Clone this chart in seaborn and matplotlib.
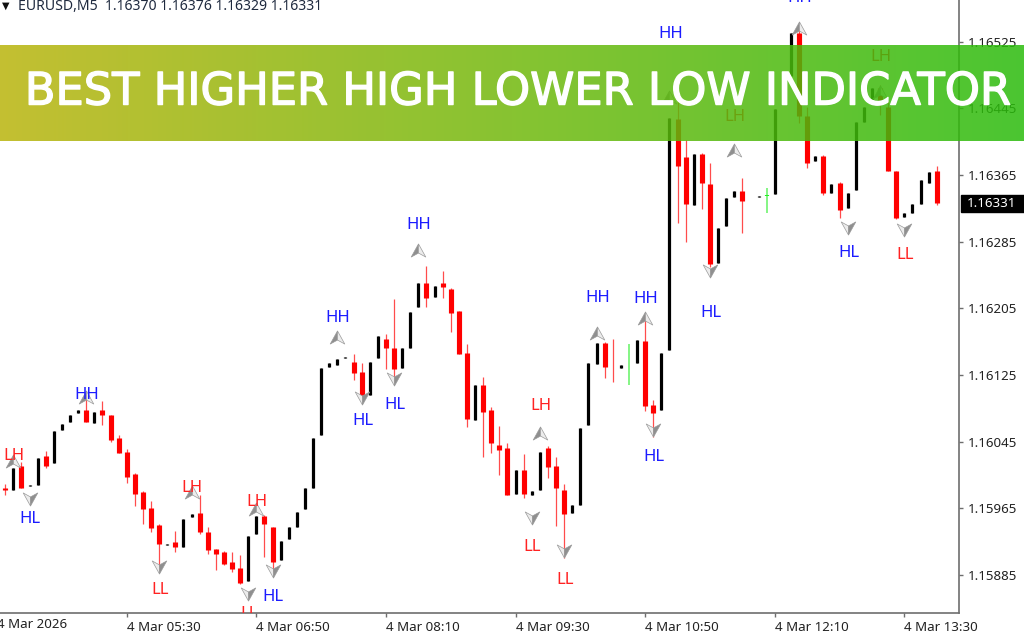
import numpy as np
import pandas as pd
import matplotlib
matplotlib.use('Agg')
import matplotlib.pyplot as plt
import matplotlib.patheffects as pe
from matplotlib.path import Path
from matplotlib.patches import Rectangle
import seaborn as sns

# EURUSD M5 candles, values are in points (1e-5), nan = bar not visible
nan = np.nan
opens = [115989, 115987, 116016, 115992, 115993, 116028, 116019, 116059, 116069, 116080,
         116083, 116067, 116083, 116077, 116049, 116033, 116006, 115985, 115965, 115945,
         115921, 115925, 115919, 115955, 115960, 115937, 115917, 115913, 115901, 115894,
         115878, 115935, 115956, 115943, 115903, 115929, 115943, 115964, 115989, 116053,
         116135, 116137, 116146, 116141, 116129, 116101, 116145, 116168, 116157, 116134,
         116157, 116207, 116235, 116219, 116235, 116228, 116202, 116152, 116071, 116113,
         116083, 116041, 116038, 115982, 116011, 115981, 115987, 116038, 116016, 115987,
         115960, 115969, 116065, 116138, 116163, 116134, 116133, 116140, 116139, 116166,
         116089, 116083, 116155, 116432, 116387, 116329, 116390, 116354, 116259, 116304,
         116339, 116346, nan, 116339, 116341, 116342, nan, 116484, 116535, 116436,
         116382, 116388, 116343, 116355, 116325, 116347, 116429, 116453, 116469, 116447,
         116370, 116315, 116320, 116330, 116355, 116370]
closes = [115987, 116014, 115989, 115993, 116026, 116016, 116058, 116066, 116077, 116083,
          116069, 116081, 116077, 116047, 116032, 116003, 115982, 115964, 115942, 115922,
          115923, 115919, 115952, 115958, 115937, 115915, 115911, 115899, 115893, 115876,
          115932, 115956, 115946, 115901, 115926, 115943, 115961, 115989, 116050, 116133,
          116139, 116144, 116147, 116128, 116100, 116141, 116172, 116157, 116132, 116157,
          116201, 116236, 116218, 116232, 116231, 116199, 116150, 116072, 116113, 116081,
          116043, 116035, 115981, 116011, 115982, 115986, 116033, 116015, 115989, 115958,
          115969, 116062, 116139, 116163, 116135, 116133, 116137, 116139, 116167, 116088,
          116079, 116152, 116433, 116376, 116330, 116390, 116355, 116258, 116302, 116337,
          116346, 116334, nan, 116340, 116340, 116444, nan, 116535, 116436, 116379,
          116388, 116343, 116354, 116323, 116343, 116429, 116447, 116470, 116455, 116370,
          116313, 116320, 116330, 116359, 116369, 116331]
highs = [115994, 116014, 116021, 115993, 116026, 116034, 116058, 116066, 116077, 116083,
         116099, 116081, 116094, 116077, 116053, 116036, 116008, 115986, 115974, 115947,
         115923, 115938, 115952, 115958, 115981, 115943, 115917, 115914, 115913, 115909,
         115932, 115956, 115957, 115943, 115926, 115943, 115961, 115989, 116050, 116133,
         116139, 116144, 116147, 116150, 116140, 116141, 116172, 116174, 116216, 116157,
         116201, 116236, 116256, 116232, 116250, 116229, 116202, 116162, 116113, 116123,
         116087, 116064, 116044, 116011, 116030, 115986, 116033, 116040, 116027, 115994,
         115969, 116062, 116139, 116163, 116165, 116168, 116137, 116162, 116167, 116197,
         116095, 116152, 116433, 116461, 116407, 116390, 116391, 116380, 116302, 116337,
         116346, 116361, nan, 116340, 116350, 116444, nan, 116535, 116541, 116447,
         116388, 116389, 116354, 116357, 116343, 116429, 116447, 116470, 116473, 116455,
         116370, 116320, 116330, 116359, 116369, 116376]
lows = [115981, 115987, 115989, 115992, 115993, 116014, 116019, 116059, 116069, 116080,
        116069, 116067, 116065, 116045, 116032, 115996, 115968, 115946, 115937, 115891,
        115921, 115913, 115919, 115955, 115934, 115911, 115891, 115897, 115889, 115874,
        115878, 115935, 115907, 115889, 115903, 115929, 115943, 115964, 115989, 116053,
        116135, 116137, 116146, 116119, 116099, 116101, 116145, 116132, 116117, 116134,
        116157, 116207, 116207, 116219, 116218, 116177, 116150, 116063, 116071, 116027,
        116032, 116005, 115981, 115982, 115977, 115981, 115987, 116001, 115944, 115906,
        115960, 115969, 116065, 116138, 116122, 116117, 116133, 116113, 116139, 116082,
        116051, 116083, 116155, 116308, 116285, 116329, 116324, 116255, 116259, 116304,
        116339, 116296, nan, 116339, 116319, 116342, nan, 116484, 116427, 116373,
        116382, 116341, 116343, 116314, 116325, 116347, 116429, 116453, 116437, 116370,
        116312, 116315, 116320, 116330, 116355, 116329]
green_bars = [77, 94]

# swing labels of the indicator
swing_bars = [1, 3, 10, 19, 23, 30, 31, 33, 41, 44, 48, 51, 65, 66, 69, 73, 79, 80, 82, 87, 90, 98, 104, 108, 111]
swing_names = ['LH', 'HL', 'HH', 'LL', 'LH', 'LL', 'LH', 'HL', 'HH', 'HL', 'HL', 'HH', 'LL',
               'LH', 'LL', 'HH', 'HH', 'HL', 'HH', 'HL', 'LH', 'HH', 'HL', 'LH', 'LL']
swing_text_points = [116030, 115955, 116103, 115869, 115992, 115840, 115975, 115861, 116196,
                     116072, 116091, 116307, 115921, 116090, 115881, 116220, 116218, 116029,
                     116536, 116202, 116437, 116579, 116273, 116509, 116271]
swing_arrow_points = [116022, 115976, 116099, 115895, 115985, 115862, 115964, 115890, 116171,
                      116097, 116120, 116275, 115954, 116055, 115914, 116176, 116193, 116059,
                      116459, 116250, 116395, 116542, 116301, 116465, 116299]

price_ticks = [1.15885, 1.15965, 1.16045, 1.16125, 1.16205, 1.16285, 1.16365, 1.16445, 1.16525]
time_ticks = [15, 31, 47, 63, 79, 95, 111]
time_labels = ['4 Mar 05:30', '4 Mar 06:50', '4 Mar 08:10', '4 Mar 09:30',
               '4 Mar 10:50', '4 Mar 12:10', '4 Mar 13:30']
last_price = 1.16331
header = 'EURUSD,M5  1.16370 1.16376 1.16329 1.16331'
banner_text = 'BEST HIGHER HIGH LOWER LOW INDICATOR'

sns.set_theme(style='white')
plt.rcParams['font.family'] = ['Noto Sans', 'DejaVu Sans']

fig = plt.figure(figsize=(10.24, 6.40), dpi=100)
ax = fig.add_axes([0, 1 - 612.7 / 640, 959.3 / 1024, 612.7 / 640])

# build the candle table
df = pd.DataFrame({'open': opens, 'high': highs, 'low': lows, 'close': closes}) / 1e5
df['bar'] = df.index
df['kind'] = np.where(df['close'] > df['open'], 'up', 'down')
df.loc[green_bars, 'kind'] = 'doji'
df = df.dropna()

colors = {'up': '#000000', 'down': '#ff0000', 'doji': '#22ee22'}
body_width = {'up': 2.3, 'down': 3.7, 'doji': 3.0}
wick_width = {'up': 0.8, 'down': 0.9, 'doji': 1.1}

for kind in colors:
    part = df[df['kind'] == kind]
    wicks = part.melt(id_vars='bar', value_vars=['low', 'high'], value_name='price')
    bodies = part.melt(id_vars='bar', value_vars=['open', 'close'], value_name='price')
    sns.lineplot(data=wicks, x='bar', y='price', units='bar', estimator=None, ax=ax,
                 color=colors[kind], lw=wick_width[kind], alpha=0.7, solid_capstyle='butt')
    sns.lineplot(data=bodies, x='bar', y='price', units='bar', estimator=None, ax=ax,
                 color=colors[kind], lw=body_width[kind], solid_capstyle='butt')

# arrows of the indicator, a dark half and a light half
swings = pd.DataFrame({'bar': swing_bars, 'name': swing_names,
                       'text_price': np.array(swing_text_points) / 1e5,
                       'arrow_price': np.array(swing_arrow_points) / 1e5})
swings['up'] = swings['name'].isin(['HH', 'LH'])

up_left = Path([(0, 0.9), (0, -0.35), (-1, -0.9), (0, 0.9)])
up_right = Path([(0, 0.9), (1, -0.9), (0, -0.35), (0, 0.9)])
down_left = Path([(0, -0.9), (-1, 0.9), (0, 0.35), (0, -0.9)])
down_right = Path([(0, -0.9), (0, 0.35), (1, 0.9), (0, -0.9)])
arrow_styles = [(True, up_left, '#8f8f8f'), (True, up_right, '#ececec'),
                (False, down_left, '#ececec'), (False, down_right, '#8f8f8f')]
for is_up, marker, face in arrow_styles:
    part = swings[swings['up'] == is_up]
    sns.scatterplot(data=part, x='bar', y='arrow_price', marker=marker, s=110, ax=ax,
                    color=face, edgecolor='#9a9a9a', linewidth=0.5, zorder=5)

for _, row in swings.iterrows():
    name_color = '#1c1cff' if row['name'] in ('HH', 'HL') else '#ff2222'
    ax.text(row['bar'] + 0.1, row['text_price'] - 0.00002, row['name'], ha='center', va='center',
            fontsize=12, color=name_color, clip_on=True, zorder=6)

ax.set_xlim(-0.654, 117.78)
ax.set_ylim(1.15840, 1.16575)
ax.set_xlabel('')
ax.set_ylabel('')

# MT4 style axes
ax.yaxis.tick_right()
ax.set_yticks(price_ticks)
ax.set_yticklabels(['%.5f' % p for p in price_ticks])
ax.set_xticks(time_ticks)
ax.set_xticklabels(time_labels, ha='left')
ax.tick_params(axis='both', length=3, width=1, color='#6e6e6e', labelcolor='#222222',
               labelsize=9.6, pad=3, bottom=True, right=True)
for side in ['left', 'top']:
    ax.spines[side].set_visible(False)
for side in ['right', 'bottom']:
    ax.spines[side].set_visible(True)
    ax.spines[side].set_color('#6e6e6e')
    ax.spines[side].set_linewidth(1.2)

fig.text(-3 / 1024, 1 - 625 / 640, '4 Mar 2026', fontsize=9.6, color='#222222', va='center')
fig.text(2 / 1024, 1 - 6 / 640, '\u25bc', fontsize=7, color='#111111', va='center',
         family='DejaVu Sans')
fig.text(18 / 1024, 1 - 6 / 640, header, fontsize=10.1, color='#1f2a3f', va='center')

# last price box
fig.add_artist(Rectangle((960.7 / 1024, 1 - 212 / 640), 63 / 1024, 17 / 640, color='black',
                         transform=fig.transFigure))
fig.text(966.5 / 1024, 1 - 203.5 / 640, '%.5f' % last_price, fontsize=9.6, color='white',
         va='center', zorder=10)

# banner goes over everything, the chart is still visible through it
banner = fig.add_axes([0, 1 - 141 / 640, 1, 96 / 640], zorder=20)
left_rgb = np.array([185, 180, 12]) / 255
right_rgb = np.array([42, 188, 12]) / 255
mix = np.linspace(0, 1, 512)[:, None]
strip = (left_rgb * (1 - mix) + right_rgb * mix)[None, :, :]
banner.imshow(strip, aspect='auto', alpha=0.85, extent=(0, 1, 0, 1))
banner.axis('off')
banner.text(0.5055, 0.51, banner_text, transform=banner.transAxes, ha='center', va='center',
            color='white', fontsize=32.2, family='DejaVu Sans',
            path_effects=[pe.withStroke(linewidth=1.0, foreground='white')])

fig.savefig('out.png', dpi=100)
plt.close()
